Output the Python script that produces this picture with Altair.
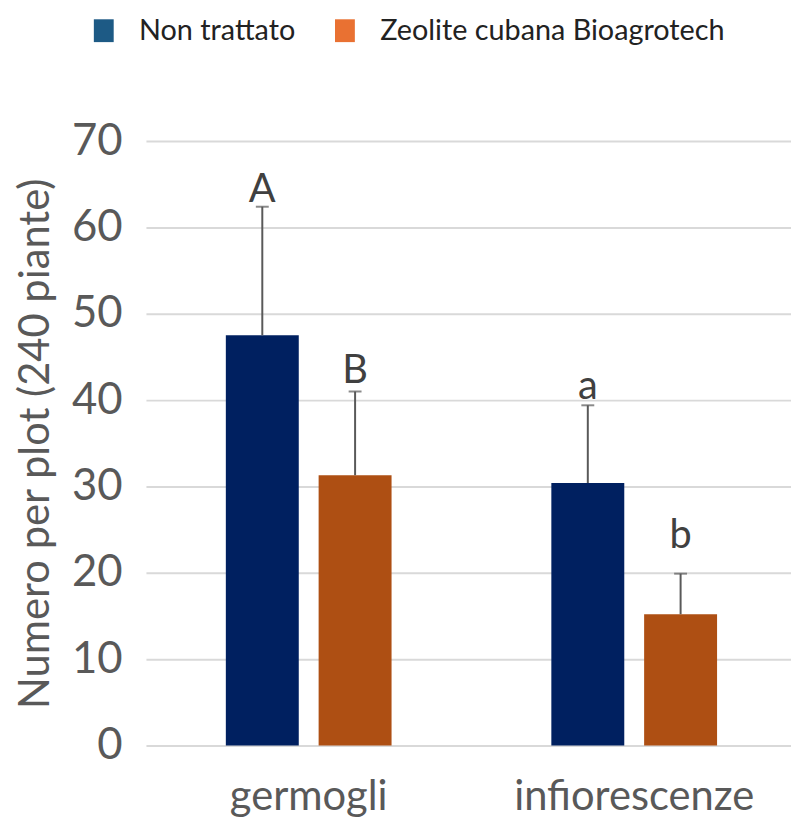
import altair as alt
import pandas as pd

categories = ["germogli", "germogli", "infiorescenze", "infiorescenze"]
series = ["Non trattato", "Zeolite cubana Bioagrotech", "Non trattato", "Zeolite cubana Bioagrotech"]
means = [47.5, 31.3, 30.4, 15.2]
upper = [62.4, 41.0, 39.4, 19.9]
letters = ["A", "B", "a", "b"]
letter_pos = [62.9, 42.0, 40.1, 22.9]

series_order = ["Non trattato", "Zeolite cubana Bioagrotech"]
bar_colors = ["#002060", "#AE4F13"]
legend_colors = ["#1D5A85", "#E97132"]
y_ticks = [0, 10, 20, 30, 40, 50, 60, 70]

df = pd.DataFrame({
    "categoria": categories,
    "serie": series,
    "media": means,
    "sup": upper,
    "lettera": letters,
    "pos": letter_pos,
})

FONT = "Lato"

x_enc = alt.X("categoria:N", sort=["germogli", "infiorescenze"],
              scale=alt.Scale(range=[0, 656], paddingInner=0, paddingOuter=0),
              axis=alt.Axis(title=None, labelFontSize=42, labelColor="#595959", labelFont=FONT,
                            domain=False, ticks=False, labelPadding=32, labelAngle=0,
                            labelLimit=0))
xo_enc = alt.XOffset("serie:N", sort=series_order,
                     scale=alt.Scale(domain=series_order, paddingInner=0.214, paddingOuter=0.861))
y_scale = alt.Scale(domain=[0, 70], nice=False)

bars = alt.Chart(df).mark_bar().encode(
    x=x_enc,
    xOffset=xo_enc,
    y=alt.Y("media:Q", scale=y_scale,
            axis=alt.Axis(values=y_ticks, title="Numero per plot (240 piante)",
                          titleFontSize=42, titleFontWeight="normal", titleColor="#595959",
                          titleFont=FONT, titleX=-89, titleLimit=0,
                          labelFontSize=44, labelColor="#595959", labelFont=FONT, labelPadding=24,
                          domain=False, ticks=False, grid=True, gridColor="#D9D9D9", gridWidth=2)),
    color=alt.Color("serie:N", scale=alt.Scale(domain=series_order, range=bar_colors), legend=None),
)

rules = alt.Chart(df).mark_rule(color="#595959", strokeWidth=2).encode(
    x=x_enc, xOffset=xo_enc, y=alt.Y("media:Q", scale=y_scale), y2="sup:Q"
)

caps = alt.Chart(df).mark_tick(color="#595959", thickness=2, size=13, orient="horizontal").encode(
    x=x_enc, xOffset=xo_enc, y=alt.Y("sup:Q", scale=y_scale)
)

labels = alt.Chart(df).mark_text(fontSize=40, font=FONT, color="#404040", baseline="alphabetic",
                                 align="center").encode(
    x=x_enc, xOffset=xo_enc, y=alt.Y("pos:Q", scale=y_scale), text="lettera:N"
)

legend_layer = alt.Chart(df).mark_point(filled=True, opacity=0, size=1).encode(
    x=x_enc, xOffset=xo_enc, y=alt.Y("media:Q", scale=y_scale),
    fill=alt.Fill("serie:N", scale=alt.Scale(domain=series_order, range=legend_colors),
                  legend=alt.Legend(title=None, orient="none", legendX=-57, legendY=-126,
                                    direction="horizontal", columns=2, padding=0,
                                    symbolType="M-0.87,-1H0.87V1H-0.87Z", symbolSize=529,
                                    symbolOpacity=1, symbolStrokeWidth=0,
                                    labelFontSize=29, labelFont=FONT, labelColor="#222222",
                                    labelOffset=21, columnPadding=35, labelLimit=0)),
)

chart = alt.layer(bars, rules, caps, labels, legend_layer).resolve_scale(
    color="independent", fill="independent"
).properties(
    width=650, height=609,
    autosize=alt.AutoSizeParams(type="none"),
    padding={"left": 139, "top": 131, "right": 0, "bottom": 76},
).configure_view(stroke=None)

chart.save("out.html", embed_options={"renderer": "svg", "actions": False})
